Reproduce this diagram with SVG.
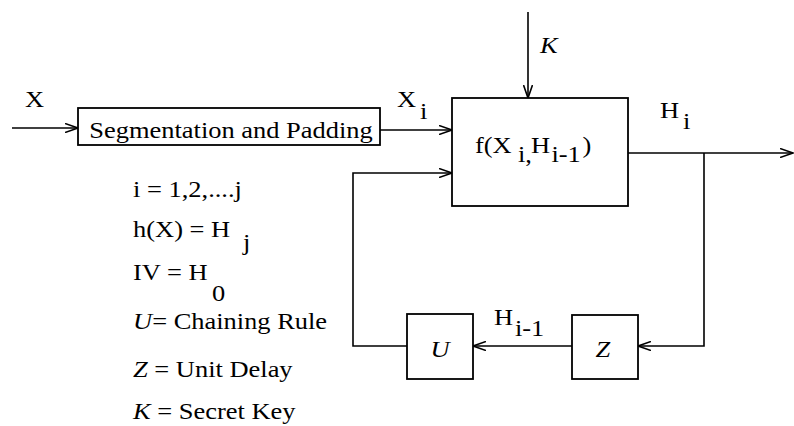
<svg xmlns="http://www.w3.org/2000/svg" width="794" height="426" viewBox="0 0 794 426">
  <style>
    text { font-family: "Liberation Serif", "Times New Roman", serif; font-size: 23px; fill: #000; }
    .it { font-style: italic; }
    .box { fill: #fff; stroke: #000; stroke-width: 1.8; }
    .wire { fill: none; stroke: #000; stroke-width: 1.6; }
  </style>
  <defs>
    <marker id="arrow" viewBox="0 0 14 10" refX="13" refY="5" markerWidth="14" markerHeight="10" markerUnits="userSpaceOnUse" orient="auto">
      <path d="M0,0.5 L13,5 L0,9.5" fill="none" stroke="#000" stroke-width="1.6"/>
    </marker>
  </defs>

  <!-- connectors -->
  <g id="connectors">
    <line class="wire" x1="12" y1="128" x2="78" y2="128" marker-end="url(#arrow)"/>
    <line class="wire" x1="380" y1="130" x2="452" y2="130" marker-end="url(#arrow)"/>
    <line class="wire" x1="528" y1="12" x2="528" y2="98" marker-end="url(#arrow)"/>
    <line class="wire" x1="628" y1="153" x2="793" y2="153" marker-end="url(#arrow)"/>
    <polyline class="wire" points="704,153 704,346 638,346" marker-end="url(#arrow)"/>
    <line class="wire" x1="572" y1="346" x2="473" y2="346" marker-end="url(#arrow)"/>
    <polyline class="wire" points="407,346 353,346 353,173 452,173" marker-end="url(#arrow)"/>
  </g>

  <!-- block outlines -->
  <g id="segmentation">
    <rect class="box" x="78" y="108" width="302" height="37"/>
  </g>
  <g id="compression">
    <rect class="box" x="452" y="98" width="176" height="108"/>
  </g>
  <g id="chaining">
    <rect class="box" x="407" y="314" width="66" height="65"/>
  </g>
  <g id="delay">
    <rect class="box" x="572" y="315" width="66" height="64"/>
  </g>

  <!-- all lettering is set slightly wide: x values below are divided by 1.15 -->
  <g id="text" transform="scale(1.15,1)">
    <g id="segmentation-label">
      <text x="200.9" y="138" text-anchor="middle">Segmentation and Padding</text>
    </g>
    <g id="compression-label">
      <text y="153"><tspan x="413">f(X</tspan><tspan x="450.4" dy="9">i</tspan><tspan>,</tspan><tspan x="461.7" dy="-9">H</tspan><tspan x="479.5" dy="9">i-1</tspan><tspan x="506.5" dy="-9">)</tspan></text>
    </g>
    <g id="chaining-label">
      <text class="it" x="382.6" y="357" text-anchor="middle">U</text>
    </g>
    <g id="delay-label">
      <text class="it" x="524.3" y="357" text-anchor="middle">Z</text>
    </g>

    <!-- signal labels -->
    <g id="signals">
      <text x="21.7" y="107">X</text>
      <text y="107"><tspan x="345.2">X</tspan><tspan x="365.2" dy="12">i</tspan></text>
      <text class="it" x="469.6" y="53">K</text>
      <text y="118"><tspan x="573.9">H</tspan><tspan x="593.9" dy="11">i</tspan></text>
      <text y="325"><tspan x="429.6">H</tspan><tspan x="447.8" dy="11">i-1</tspan></text>
    </g>

    <!-- legend -->
    <g id="legend">
      <text x="115.7" y="197">i = 1,2,....j</text>
      <text x="115.7" y="237">h(X) = H</text>
      <text x="211.3" y="250">j</text>
      <text x="115.7" y="280">IV = H</text>
      <text x="184.3" y="301">0</text>
      <text x="115.7" y="329"><tspan class="it">U</tspan>= Chaining Rule</text>
      <text x="115.7" y="377"><tspan class="it">Z</tspan> = Unit Delay</text>
      <text x="115.7" y="419"><tspan class="it">K</tspan> = Secret Key</text>
    </g>
  </g>
</svg>
